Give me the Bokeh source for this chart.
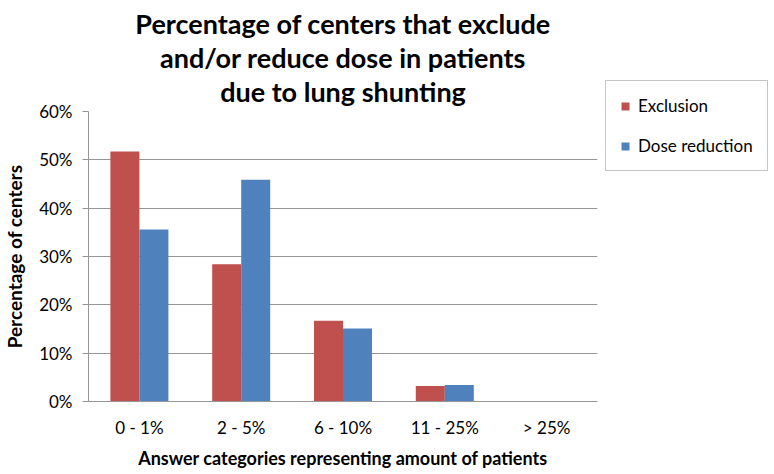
from bokeh.plotting import figure
from bokeh.models import (FactorRange, Range1d, Legend, LegendItem, Title,
                          PrintfTickFormatter, FixedTicker, ColumnDataSource)
from bokeh.transform import dodge
from bokeh.embed import file_html
from bokeh.resources import INLINE

# ---- data (percent of centers) ----
categories = ["0 - 1%", "2 - 5%", "6 - 10%", "11 - 25%", "> 25%"]
exclusion = [51.7, 28.4, 16.7, 3.2, 0.0]
dose_reduction = [35.6, 45.9, 15.1, 3.4, 0.0]
y_ticks = [0, 10, 20, 30, 40, 50, 60]
title_lines = ["Percentage of centers that exclude",
               "and/or reduce dose in patients",
               "due to lung shunting"]
series_names = ["Exclusion", "Dose reduction"]
x_title = "Answer categories representing amount of patients"
y_title = "Percentage of centers"

RED = "#C0504D"
BLUE = "#4F81BD"
GRID = "#969696"
FONT = "Lato"

src = ColumnDataSource(dict(cat=categories, exc=exclusion, dose=dose_reduction))

p = figure(frame_width=509, frame_height=290, x_range=FactorRange(*categories),
           y_range=Range1d(0, 60), output_backend="svg", toolbar_location=None,
           min_border_left=80, min_border_right=169, min_border_top=106,
           min_border_bottom=62)
p.outline_line_color = None
p.background_fill_color = "white"

r1 = p.vbar(x=dodge("cat", -0.1425, range=p.x_range), top="exc", width=0.285,
            source=src, fill_color=RED, line_color=None)
r2 = p.vbar(x=dodge("cat", 0.1425, range=p.x_range), top="dose", width=0.285,
            source=src, fill_color=BLUE, line_color=None)

# titles (stacked from the frame outward)
standoffs = [8, -10, 8]
for line, so in reversed(list(zip(title_lines, standoffs))):
    p.add_layout(Title(text=line, align="center", text_font=FONT,
                       text_font_size="27px", text_font_style="bold",
                       text_color="black", standoff=so), "above")

# y axis
p.yaxis.ticker = FixedTicker(ticks=y_ticks)
p.yaxis.formatter = PrintfTickFormatter(format="%d%%")
p.yaxis.major_tick_out = 6
p.yaxis.major_tick_in = 0
p.yaxis.minor_tick_line_color = None
p.yaxis.major_tick_line_color = GRID
p.yaxis.axis_line_color = GRID
p.yaxis.major_label_standoff = 10
p.yaxis.major_label_text_font = FONT
p.yaxis.major_label_text_font_size = "17px"
p.yaxis.major_label_text_color = "black"
p.yaxis.axis_label = y_title
p.yaxis.axis_label_text_font = FONT
p.yaxis.axis_label_text_font_size = "19px"
p.yaxis.axis_label_text_font_style = "bold"
p.yaxis.axis_label_text_color = "black"
p.yaxis.axis_label_standoff = 10

# x axis
p.xaxis.major_tick_line_color = None
p.xaxis.minor_tick_line_color = None
p.xaxis.axis_line_color = GRID
p.xaxis.major_label_standoff = 9
p.xaxis.major_label_text_font = FONT
p.xaxis.major_label_text_font_size = "17px"
p.xaxis.major_label_text_color = "black"
p.xaxis.axis_label = x_title
p.xaxis.axis_label_text_font = FONT
p.xaxis.axis_label_text_font_size = "18px"
p.xaxis.axis_label_text_font_style = "bold"
p.xaxis.axis_label_text_color = "black"
p.xaxis.axis_label_standoff = 6

p.xgrid.grid_line_color = None
p.ygrid.grid_line_color = GRID
p.ygrid.ticker = FixedTicker(ticks=y_ticks)

legend = Legend(items=[LegendItem(label=series_names[0], renderers=[r1]),
                       LegendItem(label=series_names[1], renderers=[r2])],
                location=(8, 230), orientation="vertical",
                border_line_color="#8c8c8c", border_line_width=1,
                background_fill_color="white", background_fill_alpha=1.0,
                label_text_font=FONT, label_text_font_size="17px",
                label_text_color="black", glyph_width=10, glyph_height=10,
                label_height=20, spacing=19, padding=14, label_standoff=8,
                margin=0)
p.add_layout(legend, "right")

open("out.html", "w").write(file_html(p, INLINE))
